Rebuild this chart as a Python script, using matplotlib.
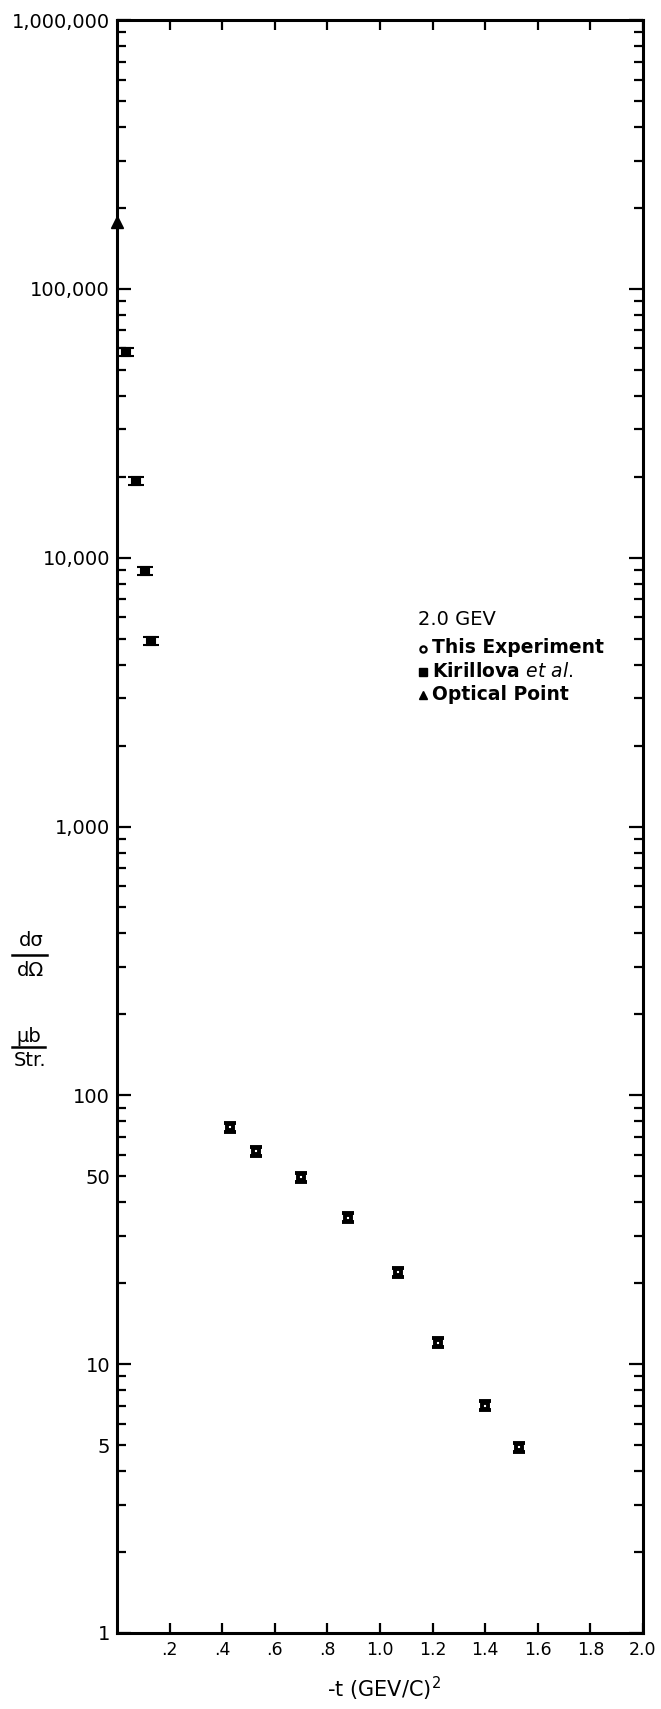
import matplotlib
matplotlib.use('Agg')
import matplotlib.pyplot as plt
from matplotlib.ticker import FixedLocator, FuncFormatter, NullFormatter
import numpy as np

matplotlib.rcParams['font.family'] = 'DejaVu Sans'

# 2.0 GeV elastic differential cross section
t_this = [0.43, 0.53, 0.70, 0.88, 1.07, 1.22, 1.40, 1.53]
ds_this = [76, 62, 49.5, 35, 22, 12, 7.0, 4.9]

t_kir = [0.035, 0.072, 0.106, 0.13]
ds_kir = [58000, 19300, 8900, 4900]

t_opt = [0.0]
ds_opt = [178000]

rel_err_this = 0.04
rel_err_kir = 0.035

y_major = [1, 10, 100, 1000, 10000, 100000, 1000000]
y_major_labels = ['1', '10', '100', '1,000', '10,000', '100,000', '1,000,000']
y_minor_labels = {5: '5', 50: '50'}
x_ticks = [0.2, 0.4, 0.6, 0.8, 1.0, 1.2, 1.4, 1.6, 1.8, 2.0]
x_tick_labels = ['.2', '.4', '.6', '.8', '1.0', '1.2', '1.4', '1.6', '1.8', '2.0']

W, H = 661, 1709


def px(x, y):
    # pixel position -> figure fraction
    return x / W, 1 - y / H


fig = plt.figure(figsize=(W / 100, H / 100), dpi=100, facecolor='white')
ax = fig.add_axes([117 / W, 1 - 1633 / H, (643 - 117) / W, (1633 - 20) / H])

ax.set_yscale('log')
ax.set_xlim(0, 2.0)
ax.set_ylim(1, 1000000)


def asym_err(vals, rel):
    v = np.array(vals, dtype=float)
    return [v - v / (1 + rel), v * rel]


ax.errorbar(t_this, ds_this, yerr=asym_err(ds_this, rel_err_this), fmt='s',
            color='black', markersize=4.5, markerfacecolor='white',
            markeredgecolor='black', markeredgewidth=2.8, elinewidth=2.5,
            capsize=4.5, capthick=2.4)
ax.errorbar(t_kir, ds_kir, yerr=asym_err(ds_kir, rel_err_kir), fmt='s',
            color='black', markersize=6, markerfacecolor='black',
            markeredgewidth=1.5, elinewidth=2.5, capsize=5.6, capthick=2.4,
            clip_on=False)
ax.plot(t_opt, ds_opt, '^', color='black', markersize=8, clip_on=False)

# axes frame and ticks
for s in ax.spines.values():
    s.set_linewidth(2.2)

ax.yaxis.set_major_locator(FixedLocator(y_major))
ax.set_yticklabels(y_major_labels)
minor = [m * 10 ** d for d in range(0, 6) for m in range(2, 10)]
ax.yaxis.set_minor_locator(FixedLocator(minor))
ax.yaxis.set_minor_formatter(FuncFormatter(lambda v, p: y_minor_labels.get(int(round(v)), '')))

ax.set_xticks(x_ticks)
ax.set_xticklabels(x_tick_labels)
ax.xaxis.set_minor_formatter(NullFormatter())

ax.tick_params(axis='y', which='major', direction='in', length=10, width=1.6,
               labelsize=14, pad=5, left=True, right=True)
ax.tick_params(axis='y', which='minor', direction='in', length=6.5, width=1.6,
               labelsize=14, pad=5, left=True, right=True)
ax.tick_params(axis='x', which='major', direction='in', length=7, width=1.6,
               labelsize=12.5, pad=6, top=True, bottom=True)

ax.set_xlabel('-t (GEV/C)$^2$', fontsize=15)
ax.xaxis.set_label_coords((384 - 117) / (643 - 117), -0.026)

# y axis label drawn as two stacked fractions
fig.text(*px(31, 941), 'd\u03c3', fontsize=14, ha='center', va='center')
fig.add_artist(plt.Line2D([12 / W, 47 / W], [1 - 955 / H] * 2, color='black', lw=1.8))
fig.text(*px(31, 970), 'd\u03a9', fontsize=14, ha='center', va='center')

fig.text(*px(29, 1036), '\u03bcb', fontsize=14, ha='center', va='center')
fig.add_artist(plt.Line2D([12 / W, 45 / W], [1 - 1047 / H] * 2, color='black', lw=1.8))
fig.text(*px(30, 1061), 'Str.', fontsize=14, ha='center', va='center')

# key
fig.text(*px(418, 625), '2.0 GEV', fontsize=14, ha='left', va='baseline')
fig.add_artist(plt.Line2D([423 / W], [1 - 649 / H], marker='o', markersize=4.5,
                          markerfacecolor='white', markeredgecolor='black', markeredgewidth=1.6))
fig.add_artist(plt.Line2D([423 / W], [1 - 672 / H], marker='s', markersize=5.5, color='black'))
fig.add_artist(plt.Line2D([423 / W], [1 - 695 / H], marker='^', markersize=5.5, color='black'))
fig.text(*px(432, 653), 'This Experiment', fontsize=13.5, fontweight='bold', ha='left', va='baseline')
fig.text(*px(432, 677), r'Kirillova $\mathbf{\mathit{et\ al.}}$', fontsize=13.5, fontweight='bold',
         ha='left', va='baseline')
fig.text(*px(432, 700), 'Optical Point', fontsize=13.5, fontweight='bold', ha='left', va='baseline')

fig.savefig('out.png', dpi=100, facecolor='white')
